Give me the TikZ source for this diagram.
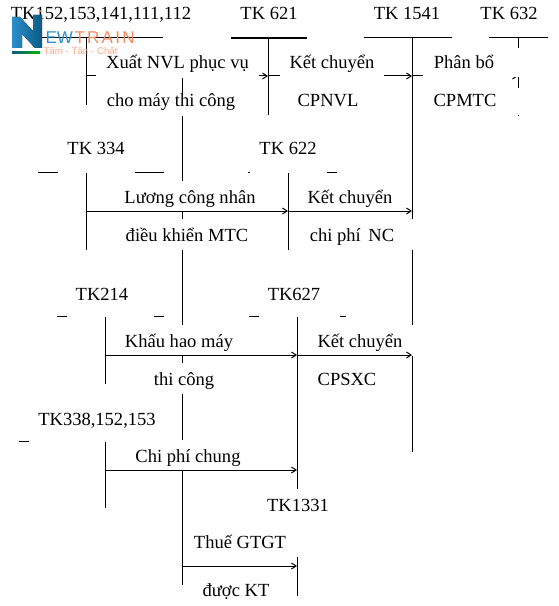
\documentclass[tikz,border=0pt]{standalone}
\usepackage{fontspec}
\setmainfont{Liberation Serif}
\newfontfamily\logofont{Liberation Sans}
\usepackage{xcolor}
\usetikzlibrary{arrows.meta}
\definecolor{logoblue}{HTML}{2A8FCB}
\definecolor{logodark}{HTML}{0B5A85}
\definecolor{logoorange}{HTML}{F58A5E}

\begin{document}
\begin{tikzpicture}[
      x=0.75pt, y=-0.75pt,
      line width=0.75pt,
      >={Straight Barb[length=3.5pt,width=4.5pt]},
      txt/.style={anchor=base, inner sep=0pt, font=\fontsize{13.9pt}{16pt}\selectfont},
      lbl/.style={txt, fill=white, text height=16.5pt, text depth=6.4pt},
      logotxt/.style={anchor=base west, inner sep=0pt, font=\logofont\fontsize{12.8pt}{13pt}\selectfont}
    ]
      \useasboundingbox (0,0) rectangle (558,606);
      % ends of the vertical lines
      \foreach \name/\xx/\yy in {ta/86/38, tb/86/105, tc/86/173, td/86/250, te/105/317, tf/105/384,
          tg/105/442, th/105/508, ti/268/38, tj/268/115, tk/288/173, tl/288/250, tm/297/317, tn/297/596,
          to/412/38, tp/412/452, tq/518/38, tr/518/116, ts/182/77, tt/182/585}
        \coordinate (\name) at (\xx,\yy);
      % ends of the arrows
      \foreach \name/\xx/\yy in {aa/86/76, ab/268/76, ac/412/76, ad/518/76, ba/86/211, bb/288/211, bc/412/211,
          ca/105/355, cb/297/355, cc/412/355, da/105/470, db/297/470, ea/182/566, eb/297/566}
        \coordinate (\name) at (\xx,\yy);

      \foreach \a/\b in {ta/tb, tc/td, te/tf, tg/th, ti/tj, tk/tl, tm/tn, to/tp, tq/tr, ts/tt}
        \draw (\a) -- (\b);
      \foreach \a/\b in {aa/ab, ab/ac, ac/ad}
        \draw[->] (\a) -- (\b);

      % the bars over the accounts
      \foreach \xa/\xb/\yy in {40/163/38, 364/452/38, 489/548/38, 38/58/172, 135/164/172, 248/250/172, 327/337/172,
          57/67/316, 154/164/316, 249/259/316, 340/346/316, 19/29/441}
        \draw (\xa,\yy) -- (\xb,\yy);
      \draw[line width=1.5pt] (231,38) -- (307,38);

      \fill[white] (423,48) rectangle (520,77);
      \fill[white] (423,88) rectangle (520,115);

      \node[txt] (tk1) at (101,20) {TK152,153,141,111,112};
      \node[txt] (tk621) at (269,20) {TK 621};
      \node[txt] (tk1541) at (407,20) {TK 1541};
      \node[txt] (tk632) at (509,20) {TK 632};
      \node[lbl, minimum width=122pt] (xuat) at (177.5,69) {Xuất NVL phục vụ};
      \node[lbl, minimum width=105pt, text height=9pt] (cho) at (171,107) {cho máy thi công};
      \node[lbl, minimum width=78pt] (kc1) at (332,69) {Kết chuyển};
      \node[txt] (cpnvl) at (328,107) {CPNVL};
      \node[txt] (phanbo) at (464,69) {Phân bổ};
      \node[txt] (cpmtc) at (465,107) {CPMTC};

      \node[txt] (tk334) at (96,155) {TK 334};
      \node[txt] (tk622) at (288,155) {TK 622};
      \node[lbl, minimum width=105pt] (luong) at (190,203) {Lương công nhân};
      \node[txt] (kc2) at (350,203) {Kết chuyển};
      \node[lbl, minimum width=97pt] (dieu) at (187,241) {điều khiển MTC};
      \node[lbl, minimum width=93pt] (nc) at (352,241) {chi phí\, NC};

      \node[txt] (tk214) at (102,300) {TK214};
      \node[txt] (tk627) at (294,300) {TK627};
      \node[lbl, minimum width=105pt] (khau) at (179,347) {Khấu hao máy};
      \node[lbl, minimum width=81pt] (kc3) at (360,347) {Kết chuyển};
      \node[lbl, minimum width=60pt] (thi) at (184,385) {thi công};
      \node[txt] (cpsxc) at (347,385) {CPSXC};

      \node[txt] (tk338) at (97,425) {TK338,152,153};
      \node[lbl, minimum width=90pt] (chung) at (188,462) {Chi phí chung};
      \node[lbl, minimum width=45pt, text depth=34.5pt] (tk1331) at (298,511) {TK1331};
      \node[txt] (thue) at (240,548) {Thuế GTGT};
      \node[txt] (duoc) at (236,596) {được KT};

      \foreach \a/\b in {ba/bb, bb/bc, ca/cb, cb/cc, da/db, ea/eb}
        \draw[->] (\a) -- (\b);

      % logo
      \fill[left color=logoblue, right color=logodark] (12,17) -- (20,17) -- (33,31) -- (33,15) -- (42,15)
        -- (42,48) -- (35,48) -- (22,34) -- (22,48) -- (12,48) -- cycle;
      \fill[logoorange] (40,11) circle (1.2);
      \fill[logodark] (38,18) circle (1.2);
      \node[logotxt, text=logoblue] (logoew) at (45,44) {EW};
      \node[logotxt, text=logoorange] (logotr) at (74,44) {\addfontfeature{LetterSpace=13}TRAIN};
      \node[anchor=base west, inner sep=0pt, text=logoorange!70, font=\logofont\fontsize{7.3pt}{8pt}\selectfont] (logotag) at (43,55) {Tâm - Tân - Chất};
      \fill[left color=logodark, right color=green!70!black] (12,52) rectangle (40,54);
    \end{tikzpicture}
\end{document}
